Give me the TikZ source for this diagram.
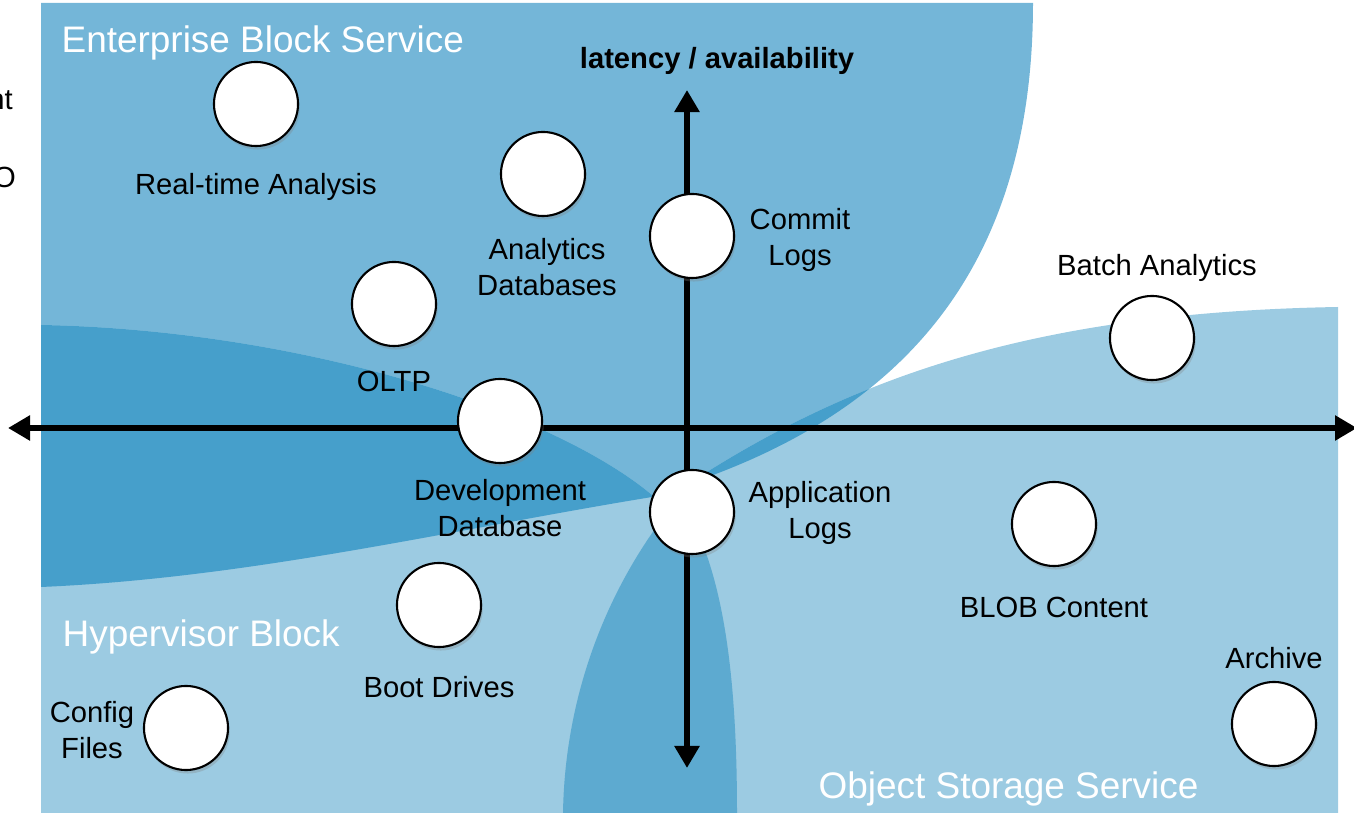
\documentclass[tikz,border=0pt]{standalone}
\usepackage{fontspec}
\setmainfont{Liberation Sans}
\usetikzlibrary{arrows.meta,shadows}
\definecolor{entblue}{HTML}{74B6D8}
\definecolor{paleblue}{HTML}{9CCBE2}
\definecolor{deepblue}{HTML}{469FCB}
\definecolor{midblue}{HTML}{5DAAD0}

\begin{document}
\begin{tikzpicture}[x=0.01cm,y=-0.01cm,
  usecase/.style={circle,draw=black,line width=0.6pt,fill=white,minimum size=0.84cm,inner sep=0pt,drop shadow={shadow xshift=0.5pt,shadow yshift=-1pt,opacity=0.3}},
  tag/.style={font=\fontsize{8.3}{10}\selectfont,align=center,inner sep=0pt},
  zone/.style={font=\fontsize{10.5}{12}\selectfont,text=white,anchor=west,inner sep=0pt},
  axis/.style={line width=1.7pt,arrows={Triangle[length=2.2mm,width=2.4mm]-Triangle[length=2.2mm,width=2.4mm]}}]
\useasboundingbox (0,0) rectangle (1354,813);
\def\entzone{(41,3) -- (1033,3) .. controls (1033,250) and (920,400) .. (705,478) -- (652,497) .. controls (450,530) and (250,578) .. (41,587) -- cycle}
\def\hypzone{(41,325) .. controls (300,330) and (550,410) .. (652,495) -- (703,545) .. controls (728,610) and (737,700) .. (737,813) -- (41,813) -- cycle}
\def\objzone{(1338,307) .. controls (1050,312) and (870,370) .. (707,472) -- (660,522) .. controls (610,590) and (565,690) .. (563,813) -- (1338,813) -- cycle}
\fill[entblue] \entzone; \fill[paleblue] \hypzone; \fill[paleblue] \objzone;
\begin{scope} \clip \entzone; \fill[deepblue] \hypzone; \fill[deepblue] \objzone; \end{scope}
\begin{scope} \clip \hypzone; \fill[midblue] \objzone; \end{scope}
\node[zone] (ebs) at (61,43) {Enterprise Block Service};
\node[zone] (hvb) at (62,637) {Hypervisor Block};
\node[zone] (oss) at (818,789) {Object Storage Service};
\node[tag,anchor=base east] (cuta) at (13.5,110) {nt};
\node[tag,anchor=base east] (cutb) at (16.5,188) {O};
\coordinate (xw) at (8,428); \coordinate (xe) at (1357,428); \coordinate (yn) at (687,90); \coordinate (ys) at (687,768);
\draw[axis] (xw) -- (xe); \draw[axis] (yn) -- (ys);
\node[tag,font=\bfseries\fontsize{8.3}{10}\selectfont] (lat) at (717,61) {latency / availability};
\node[usecase] (rtime) at (256,104) {}; \node[tag] (rtime-t) at (256,187) {Real-time Analysis};
\node[usecase] (anadb) at (543,174) {}; \node[tag] (anadb-t) at (547,267) {Analytics\\Databases};
\node[usecase] (commit) at (692,236) {}; \node[tag] (commit-t) at (800,240) {Commit\\Logs};
\node[usecase] (oltp) at (394,304) {}; \node[tag] (oltp-t) at (394,381) {OLTP};
\node[usecase] (devdb) at (500,421) {}; \node[tag] (devdb-t) at (500,508) {Development\\Database};
\node[usecase] (applog) at (692,512) {}; \node[tag] (applog-t) at (820,513) {Application\\Logs};
\node[usecase] (batch) at (1152,338) {}; \node[tag] (batch-t) at (1157,268) {Batch Analytics};
\node[usecase] (blob) at (1054,524) {}; \node[tag] (blob-t) at (1054,607) {BLOB Content};
\node[usecase] (boot) at (439,605) {}; \node[tag] (boot-t) at (439,687) {Boot Drives};
\node[usecase] (config) at (186,728) {}; \node[tag] (config-t) at (92,730) {Config\\Files};
\node[usecase] (archive) at (1274,724) {}; \node[tag] (archive-t) at (1274,658) {Archive};
\end{tikzpicture}
\end{document}
